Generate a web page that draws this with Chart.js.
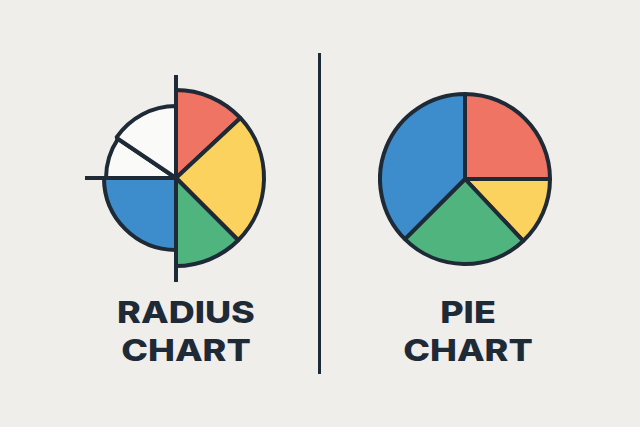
<!DOCTYPE html>
<html>
<head>
<meta charset="utf-8">
<script src="https://cdn.jsdelivr.net/npm/chart.js@4.4.1/dist/chart.umd.min.js"></script>
<style>
  html, body {
    margin: 0;
    padding: 0;
    background: #efeeeb;
  }
  #stage {
    position: relative;
    width: 640px;
    height: 427px;
    overflow: hidden;
    background: #efeeeb;
  }
  .box {
    position: absolute;
  }
  #radius-box {
    left: 66px;
    top: 68px;
    width: 220px;
    height: 220px;
  }
  #pie-box {
    left: 378px;
    top: 92px;
    width: 174px;
    height: 174px;
  }
  #divider {
    position: absolute;
    left: 318px;
    top: 53px;
    width: 3px;
    height: 321px;
    background: #1f2a37;
  }
  .title {
    position: absolute;
    width: 240px;
    top: 293px;
    font-family: "Inter", "DejaVu Sans", sans-serif;
    font-weight: 800;
    font-size: 30px;
    line-height: 38px;
    color: #1f2a37;
    text-align: center;
    transform: scaleX(1.2);
  }
  #radius-title {
    left: 66px;
  }
  #pie-title {
    left: 348px;
  }
</style>
</head>
<body>
<div id="stage">
  <div class="box" id="radius-box"><canvas id="radiusChart"></canvas></div>
  <div id="divider"></div>
  <div class="box" id="pie-box"><canvas id="pieChart"></canvas></div>
  <div class="title" id="radius-title">RADIUS<br>CHART</div>
  <div class="title" id="pie-title">PIE<br>CHART</div>
</div>
<script>
// radius chart: each slice has its own angle and its own radius
const radiusLabels = ["Red", "Yellow", "Green", "Blue", "White A", "White B"];
const radiusValues = [88, 88, 88, 72, 70, 72];
const radiusAngles = [47, 88, 45, 90, 34, 56];
const radiusColors = ["#ef7463", "#fbd25e", "#50b47f", "#3d8dcc", "#fafaf8", "#fafaf8"];

// pie chart
const pieLabels = ["Red", "Yellow", "Green", "Blue"];
const pieValues = [25, 13, 24.5, 37.5];
const pieColors = ["#ef7463", "#fbd25e", "#50b47f", "#3d8dcc"];

const ink = "#1f2a37";

// cross lines through the centre of the radius chart
const crossLines = {
  id: "crossLines",
  afterDatasetsDraw(chart) {
    const r = chart.scales.r;
    const ctx = chart.ctx;
    const cx = r.xCenter;
    const cy = r.yCenter;
    const d = r.drawingArea;
    ctx.save();
    ctx.strokeStyle = ink;
    ctx.lineWidth = 4;
    ctx.lineCap = "butt";
    ctx.beginPath();
    ctx.moveTo(cx, cy - d * 1.03);
    ctx.lineTo(cx, cy + d * 1.04);
    ctx.moveTo(cx - d * 0.91, cy);
    ctx.lineTo(cx, cy);
    ctx.stroke();
    ctx.restore();
  },
};

new Chart(document.getElementById("radiusChart"), {
  type: "polarArea",
  data: {
    labels: radiusLabels,
    datasets: [
      {
        data: radiusValues,
        backgroundColor: radiusColors,
        borderColor: ink,
        borderWidth: 4,
        angle: (c) => radiusAngles[c.dataIndex],
      },
    ],
  },
  options: {
    responsive: true,
    maintainAspectRatio: false,
    animation: false,
    layout: { padding: 10 },
    scales: {
      r: {
        display: false,
        min: 0,
        max: 100,
      },
    },
    plugins: {
      legend: { display: false },
      tooltip: { enabled: false },
    },
  },
  plugins: [crossLines],
});

new Chart(document.getElementById("pieChart"), {
  type: "pie",
  data: {
    labels: pieLabels,
    datasets: [
      {
        data: pieValues,
        backgroundColor: pieColors,
        borderColor: ink,
        borderWidth: 4,
      },
    ],
  },
  options: {
    responsive: true,
    maintainAspectRatio: false,
    animation: false,
    plugins: {
      legend: { display: false },
      tooltip: { enabled: false },
    },
  },
});
</script>
</body>
</html>
